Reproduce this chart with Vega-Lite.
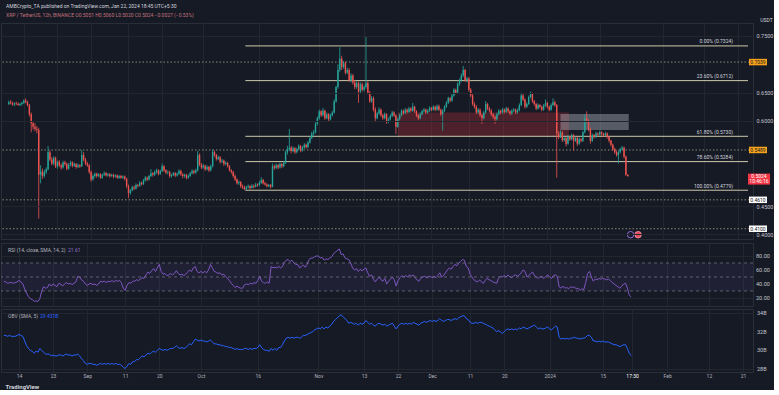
{
"$schema": "https://vega.github.io/schema/vega-lite/v6.json",
"background": "#161a25",
"padding": {"left": 0, "top": 3, "right": 0, "bottom": 0},
"title": {"text": "AMBCrypto_TA published on TradingView.com, Jan 22, 2024 18:45 UTC+5:30", "subtitle": "XRP / TetherUS, 12h, BINANCE   O0.5051  H0.5060  L0.5020  C0.5024  −0.0027 (−0.53%)", "anchor": "start", "fontSize": 5, "subtitleFontSize": 5, "color": "#d1d4dc", "subtitleColor": "#c2717b", "font": "Roboto", "subtitleFont": "Roboto", "fontWeight": "normal", "dx": 6, "offset": -1, "subtitlePadding": 4},
"spacing": 1,
"datasets": {
"candles": [
{"d":"2023-08-10T00:00","o":0.630,"h":0.636,"l":0.628,"c":0.633,"r":44,"v":31.6},
{"d":"2023-08-10T12:00","o":0.633,"h":0.637,"l":0.629,"c":0.631,"r":43,"v":31.6},
{"d":"2023-08-11T00:00","o":0.631,"h":0.634,"l":0.627,"c":0.629,"r":41,"v":31.5},
{"d":"2023-08-11T12:00","o":0.629,"h":0.633,"l":0.626,"c":0.631,"r":42,"v":31.6},
{"d":"2023-08-12T00:00","o":0.631,"h":0.634,"l":0.628,"c":0.630,"r":42,"v":31.5},
{"d":"2023-08-12T12:00","o":0.630,"h":0.633,"l":0.627,"c":0.628,"r":41,"v":31.5},
{"d":"2023-08-13T00:00","o":0.628,"h":0.632,"l":0.626,"c":0.630,"r":42,"v":31.5},
{"d":"2023-08-13T12:00","o":0.630,"h":0.634,"l":0.627,"c":0.632,"r":43,"v":31.6},
{"d":"2023-08-14T00:00","o":0.632,"h":0.638,"l":0.630,"c":0.636,"r":45,"v":31.7},
{"d":"2023-08-14T12:00","o":0.636,"h":0.640,"l":0.631,"c":0.633,"r":43,"v":31.6},
{"d":"2023-08-15T00:00","o":0.633,"h":0.636,"l":0.626,"c":0.628,"r":40,"v":31.5},
{"d":"2023-08-15T12:00","o":0.628,"h":0.630,"l":0.608,"c":0.612,"r":33,"v":31.0},
{"d":"2023-08-16T00:00","o":0.612,"h":0.615,"l":0.580,"c":0.596,"r":27,"v":30.5},
{"d":"2023-08-16T12:00","o":0.596,"h":0.600,"l":0.585,"c":0.590,"r":22,"v":30.2},
{"d":"2023-08-17T00:00","o":0.590,"h":0.596,"l":0.582,"c":0.586,"r":19,"v":30.0},
{"d":"2023-08-17T12:00","o":0.586,"h":0.591,"l":0.578,"c":0.584,"r":18,"v":29.9},
{"d":"2023-08-18T00:00","o":0.584,"h":0.588,"l":0.428,"c":0.505,"r":15,"v":29.7},
{"d":"2023-08-18T12:00","o":0.505,"h":0.522,"l":0.490,"c":0.511,"r":16,"v":29.9},
{"d":"2023-08-19T00:00","o":0.511,"h":0.516,"l":0.498,"c":0.503,"r":15,"v":29.8},
{"d":"2023-08-19T12:00","o":0.503,"h":0.514,"l":0.500,"c":0.510,"r":19,"v":30.2},
{"d":"2023-08-20T00:00","o":0.510,"h":0.518,"l":0.506,"c":0.515,"r":30,"v":30.0},
{"d":"2023-08-20T12:00","o":0.515,"h":0.556,"l":0.513,"c":0.545,"r":36,"v":29.8},
{"d":"2023-08-21T00:00","o":0.545,"h":0.548,"l":0.529,"c":0.532,"r":34,"v":29.6},
{"d":"2023-08-21T12:00","o":0.532,"h":0.536,"l":0.522,"c":0.525,"r":35,"v":29.6},
{"d":"2023-08-22T00:00","o":0.525,"h":0.538,"l":0.522,"c":0.535,"r":40,"v":29.6},
{"d":"2023-08-22T12:00","o":0.535,"h":0.537,"l":0.517,"c":0.520,"r":37,"v":29.4},
{"d":"2023-08-23T00:00","o":0.520,"h":0.530,"l":0.516,"c":0.528,"r":40,"v":29.5},
{"d":"2023-08-23T12:00","o":0.528,"h":0.531,"l":0.519,"c":0.522,"r":38,"v":29.4},
{"d":"2023-08-24T00:00","o":0.522,"h":0.525,"l":0.514,"c":0.518,"r":36,"v":29.4},
{"d":"2023-08-24T12:00","o":0.518,"h":0.530,"l":0.516,"c":0.527,"r":41,"v":29.5},
{"d":"2023-08-25T00:00","o":0.527,"h":0.530,"l":0.521,"c":0.524,"r":40,"v":29.5},
{"d":"2023-08-25T12:00","o":0.524,"h":0.527,"l":0.513,"c":0.516,"r":37,"v":29.4},
{"d":"2023-08-26T00:00","o":0.516,"h":0.526,"l":0.514,"c":0.523,"r":40,"v":29.5},
{"d":"2023-08-26T12:00","o":0.523,"h":0.530,"l":0.520,"c":0.527,"r":42,"v":29.6},
{"d":"2023-08-27T00:00","o":0.527,"h":0.529,"l":0.518,"c":0.521,"r":40,"v":29.5},
{"d":"2023-08-27T12:00","o":0.521,"h":0.527,"l":0.519,"c":0.524,"r":41,"v":29.5},
{"d":"2023-08-28T00:00","o":0.524,"h":0.526,"l":0.516,"c":0.519,"r":39,"v":29.4},
{"d":"2023-08-28T12:00","o":0.519,"h":0.525,"l":0.517,"c":0.522,"r":41,"v":29.5},
{"d":"2023-08-29T00:00","o":0.522,"h":0.524,"l":0.517,"c":0.520,"r":43,"v":29.5},
{"d":"2023-08-29T12:00","o":0.520,"h":0.549,"l":0.519,"c":0.540,"r":51,"v":29.6},
{"d":"2023-08-30T00:00","o":0.540,"h":0.545,"l":0.529,"c":0.532,"r":50,"v":29.4},
{"d":"2023-08-30T12:00","o":0.532,"h":0.535,"l":0.522,"c":0.525,"r":46,"v":29.1},
{"d":"2023-08-31T00:00","o":0.525,"h":0.528,"l":0.519,"c":0.522,"r":44,"v":28.9},
{"d":"2023-08-31T12:00","o":0.522,"h":0.524,"l":0.507,"c":0.510,"r":40,"v":28.6},
{"d":"2023-09-01T00:00","o":0.510,"h":0.513,"l":0.493,"c":0.497,"r":38,"v":28.5},
{"d":"2023-09-01T12:00","o":0.497,"h":0.506,"l":0.495,"c":0.503,"r":40,"v":28.6},
{"d":"2023-09-02T00:00","o":0.503,"h":0.509,"l":0.500,"c":0.507,"r":41,"v":28.6},
{"d":"2023-09-02T12:00","o":0.507,"h":0.509,"l":0.500,"c":0.503,"r":39,"v":28.5},
{"d":"2023-09-03T00:00","o":0.503,"h":0.508,"l":0.501,"c":0.506,"r":40,"v":28.5},
{"d":"2023-09-03T12:00","o":0.506,"h":0.508,"l":0.498,"c":0.500,"r":38,"v":28.4},
{"d":"2023-09-04T00:00","o":0.500,"h":0.507,"l":0.498,"c":0.505,"r":40,"v":28.5},
{"d":"2023-09-04T12:00","o":0.505,"h":0.511,"l":0.503,"c":0.508,"r":44,"v":28.6},
{"d":"2023-09-05T00:00","o":0.508,"h":0.510,"l":0.502,"c":0.504,"r":43,"v":28.5},
{"d":"2023-09-05T12:00","o":0.504,"h":0.508,"l":0.502,"c":0.506,"r":44,"v":28.6},
{"d":"2023-09-06T00:00","o":0.506,"h":0.508,"l":0.500,"c":0.503,"r":42,"v":28.5},
{"d":"2023-09-06T12:00","o":0.503,"h":0.507,"l":0.501,"c":0.505,"r":44,"v":28.6},
{"d":"2023-09-07T00:00","o":0.505,"h":0.507,"l":0.499,"c":0.502,"r":43,"v":28.5},
{"d":"2023-09-07T12:00","o":0.502,"h":0.506,"l":0.500,"c":0.504,"r":45,"v":28.6},
{"d":"2023-09-08T00:00","o":0.504,"h":0.506,"l":0.498,"c":0.500,"r":43,"v":28.5},
{"d":"2023-09-08T12:00","o":0.500,"h":0.505,"l":0.498,"c":0.503,"r":45,"v":28.6},
{"d":"2023-09-09T00:00","o":0.503,"h":0.505,"l":0.498,"c":0.500,"r":44,"v":28.5},
{"d":"2023-09-09T12:00","o":0.500,"h":0.504,"l":0.498,"c":0.502,"r":45,"v":28.5},
{"d":"2023-09-10T00:00","o":0.502,"h":0.504,"l":0.495,"c":0.498,"r":42,"v":28.4},
{"d":"2023-09-10T12:00","o":0.498,"h":0.500,"l":0.482,"c":0.485,"r":34,"v":28.2},
{"d":"2023-09-11T00:00","o":0.485,"h":0.488,"l":0.464,"c":0.473,"r":31,"v":28.05},
{"d":"2023-09-11T12:00","o":0.473,"h":0.480,"l":0.470,"c":0.478,"r":38,"v":28.3},
{"d":"2023-09-12T00:00","o":0.478,"h":0.486,"l":0.476,"c":0.483,"r":42,"v":28.6},
{"d":"2023-09-12T12:00","o":0.483,"h":0.486,"l":0.478,"c":0.481,"r":41,"v":28.5},
{"d":"2023-09-13T00:00","o":0.481,"h":0.490,"l":0.479,"c":0.487,"r":44,"v":28.8},
{"d":"2023-09-13T12:00","o":0.487,"h":0.489,"l":0.483,"c":0.486,"r":44,"v":28.8},
{"d":"2023-09-14T00:00","o":0.486,"h":0.494,"l":0.484,"c":0.491,"r":46,"v":29.0},
{"d":"2023-09-14T12:00","o":0.491,"h":0.493,"l":0.486,"c":0.489,"r":45,"v":29.0},
{"d":"2023-09-15T00:00","o":0.489,"h":0.498,"l":0.487,"c":0.495,"r":47,"v":29.2},
{"d":"2023-09-15T12:00","o":0.495,"h":0.503,"l":0.493,"c":0.500,"r":49,"v":29.4},
{"d":"2023-09-16T00:00","o":0.500,"h":0.502,"l":0.494,"c":0.497,"r":48,"v":29.3},
{"d":"2023-09-16T12:00","o":0.497,"h":0.505,"l":0.495,"c":0.503,"r":53,"v":29.5},
{"d":"2023-09-17T00:00","o":0.503,"h":0.515,"l":0.501,"c":0.508,"r":57,"v":29.7},
{"d":"2023-09-17T12:00","o":0.508,"h":0.510,"l":0.502,"c":0.505,"r":55,"v":29.6},
{"d":"2023-09-18T00:00","o":0.505,"h":0.513,"l":0.503,"c":0.510,"r":59,"v":29.8},
{"d":"2023-09-18T12:00","o":0.510,"h":0.516,"l":0.507,"c":0.513,"r":62,"v":29.9},
{"d":"2023-09-19T00:00","o":0.513,"h":0.515,"l":0.504,"c":0.507,"r":58,"v":29.8},
{"d":"2023-09-19T12:00","o":0.507,"h":0.514,"l":0.505,"c":0.512,"r":63,"v":30.0},
{"d":"2023-09-20T00:00","o":0.512,"h":0.525,"l":0.510,"c":0.520,"r":68,"v":30.2},
{"d":"2023-09-20T12:00","o":0.520,"h":0.522,"l":0.510,"c":0.513,"r":58,"v":30.1},
{"d":"2023-09-21T00:00","o":0.513,"h":0.515,"l":0.506,"c":0.509,"r":54,"v":30.0},
{"d":"2023-09-21T12:00","o":0.509,"h":0.513,"l":0.506,"c":0.510,"r":55,"v":30.1},
{"d":"2023-09-22T00:00","o":0.510,"h":0.512,"l":0.500,"c":0.503,"r":52,"v":30.0},
{"d":"2023-09-22T12:00","o":0.503,"h":0.507,"l":0.500,"c":0.505,"r":53,"v":30.1},
{"d":"2023-09-23T00:00","o":0.505,"h":0.510,"l":0.503,"c":0.508,"r":55,"v":30.2},
{"d":"2023-09-23T12:00","o":0.508,"h":0.510,"l":0.501,"c":0.504,"r":53,"v":30.2},
{"d":"2023-09-24T00:00","o":0.504,"h":0.509,"l":0.502,"c":0.507,"r":55,"v":30.3},
{"d":"2023-09-24T12:00","o":0.507,"h":0.515,"l":0.505,"c":0.512,"r":59,"v":30.5},
{"d":"2023-09-25T00:00","o":0.512,"h":0.514,"l":0.503,"c":0.506,"r":55,"v":30.3},
{"d":"2023-09-25T12:00","o":0.506,"h":0.508,"l":0.499,"c":0.503,"r":53,"v":30.2},
{"d":"2023-09-26T00:00","o":0.503,"h":0.507,"l":0.500,"c":0.505,"r":54,"v":30.3},
{"d":"2023-09-26T12:00","o":0.505,"h":0.507,"l":0.497,"c":0.500,"r":52,"v":30.2},
{"d":"2023-09-27T00:00","o":0.500,"h":0.506,"l":0.498,"c":0.503,"r":54,"v":30.3},
{"d":"2023-09-27T12:00","o":0.503,"h":0.510,"l":0.501,"c":0.508,"r":57,"v":30.5},
{"d":"2023-09-28T00:00","o":0.508,"h":0.515,"l":0.506,"c":0.512,"r":60,"v":30.7},
{"d":"2023-09-28T12:00","o":0.512,"h":0.514,"l":0.506,"c":0.509,"r":58,"v":30.6},
{"d":"2023-09-29T00:00","o":0.509,"h":0.516,"l":0.507,"c":0.513,"r":63,"v":30.9},
{"d":"2023-09-29T12:00","o":0.513,"h":0.547,"l":0.511,"c":0.540,"r":65,"v":31.2},
{"d":"2023-09-30T00:00","o":0.540,"h":0.543,"l":0.520,"c":0.523,"r":58,"v":31.1},
{"d":"2023-09-30T12:00","o":0.523,"h":0.526,"l":0.515,"c":0.518,"r":56,"v":31.0},
{"d":"2023-10-01T00:00","o":0.518,"h":0.524,"l":0.516,"c":0.521,"r":58,"v":31.1},
{"d":"2023-10-01T12:00","o":0.521,"h":0.523,"l":0.512,"c":0.515,"r":56,"v":31.0},
{"d":"2023-10-02T00:00","o":0.515,"h":0.522,"l":0.513,"c":0.519,"r":58,"v":31.0},
{"d":"2023-10-02T12:00","o":0.519,"h":0.521,"l":0.510,"c":0.513,"r":56,"v":30.9},
{"d":"2023-10-03T00:00","o":0.513,"h":0.523,"l":0.511,"c":0.520,"r":60,"v":31.0},
{"d":"2023-10-03T12:00","o":0.520,"h":0.550,"l":0.518,"c":0.545,"r":68,"v":31.1},
{"d":"2023-10-04T00:00","o":0.545,"h":0.548,"l":0.537,"c":0.540,"r":63,"v":30.9},
{"d":"2023-10-04T12:00","o":0.540,"h":0.542,"l":0.530,"c":0.533,"r":58,"v":30.7},
{"d":"2023-10-05T00:00","o":0.533,"h":0.539,"l":0.531,"c":0.536,"r":57,"v":30.7},
{"d":"2023-10-05T12:00","o":0.536,"h":0.538,"l":0.525,"c":0.528,"r":55,"v":30.6},
{"d":"2023-10-06T00:00","o":0.528,"h":0.533,"l":0.526,"c":0.530,"r":56,"v":30.6},
{"d":"2023-10-06T12:00","o":0.530,"h":0.532,"l":0.521,"c":0.524,"r":53,"v":30.5},
{"d":"2023-10-07T00:00","o":0.524,"h":0.529,"l":0.522,"c":0.526,"r":54,"v":30.5},
{"d":"2023-10-07T12:00","o":0.526,"h":0.528,"l":0.518,"c":0.520,"r":51,"v":30.4},
{"d":"2023-10-08T00:00","o":0.520,"h":0.522,"l":0.511,"c":0.513,"r":48,"v":30.4},
{"d":"2023-10-08T12:00","o":0.513,"h":0.515,"l":0.507,"c":0.510,"r":45,"v":30.3},
{"d":"2023-10-09T00:00","o":0.510,"h":0.512,"l":0.500,"c":0.503,"r":41,"v":30.3},
{"d":"2023-10-09T12:00","o":0.503,"h":0.506,"l":0.494,"c":0.497,"r":38,"v":30.2},
{"d":"2023-10-10T00:00","o":0.497,"h":0.499,"l":0.488,"c":0.490,"r":35,"v":30.1},
{"d":"2023-10-10T12:00","o":0.490,"h":0.495,"l":0.487,"c":0.492,"r":37,"v":30.2},
{"d":"2023-10-11T00:00","o":0.492,"h":0.494,"l":0.482,"c":0.485,"r":35,"v":30.1},
{"d":"2023-10-11T12:00","o":0.485,"h":0.488,"l":0.480,"c":0.483,"r":34,"v":30.1},
{"d":"2023-10-12T00:00","o":0.483,"h":0.486,"l":0.4779,"c":0.480,"r":34,"v":30.1},
{"d":"2023-10-12T12:00","o":0.480,"h":0.486,"l":0.478,"c":0.483,"r":39,"v":30.2},
{"d":"2023-10-13T00:00","o":0.483,"h":0.488,"l":0.481,"c":0.485,"r":40,"v":30.2},
{"d":"2023-10-13T12:00","o":0.485,"h":0.487,"l":0.479,"c":0.482,"r":39,"v":30.1},
{"d":"2023-10-14T00:00","o":0.482,"h":0.489,"l":0.481,"c":0.486,"r":41,"v":30.2},
{"d":"2023-10-14T12:00","o":0.486,"h":0.488,"l":0.481,"c":0.484,"r":40,"v":30.1},
{"d":"2023-10-15T00:00","o":0.484,"h":0.491,"l":0.483,"c":0.488,"r":42,"v":30.2},
{"d":"2023-10-15T12:00","o":0.488,"h":0.490,"l":0.484,"c":0.487,"r":41,"v":30.2},
{"d":"2023-10-16T00:00","o":0.487,"h":0.494,"l":0.485,"c":0.491,"r":45,"v":30.3},
{"d":"2023-10-16T12:00","o":0.491,"h":0.501,"l":0.489,"c":0.496,"r":51,"v":30.6},
{"d":"2023-10-17T00:00","o":0.496,"h":0.498,"l":0.488,"c":0.490,"r":44,"v":30.3},
{"d":"2023-10-17T12:00","o":0.490,"h":0.493,"l":0.486,"c":0.488,"r":42,"v":30.1},
{"d":"2023-10-18T00:00","o":0.488,"h":0.490,"l":0.483,"c":0.485,"r":41,"v":30.0},
{"d":"2023-10-18T12:00","o":0.485,"h":0.489,"l":0.483,"c":0.487,"r":43,"v":30.0},
{"d":"2023-10-19T00:00","o":0.487,"h":0.489,"l":0.481,"c":0.484,"r":41,"v":29.9},
{"d":"2023-10-19T12:00","o":0.484,"h":0.525,"l":0.483,"c":0.520,"r":65,"v":30.2},
{"d":"2023-10-20T00:00","o":0.520,"h":0.523,"l":0.514,"c":0.517,"r":63,"v":30.0},
{"d":"2023-10-20T12:00","o":0.517,"h":0.525,"l":0.515,"c":0.522,"r":64,"v":30.2},
{"d":"2023-10-21T00:00","o":0.522,"h":0.524,"l":0.515,"c":0.518,"r":63,"v":30.0},
{"d":"2023-10-21T12:00","o":0.518,"h":0.527,"l":0.516,"c":0.524,"r":65,"v":30.3},
{"d":"2023-10-22T00:00","o":0.524,"h":0.526,"l":0.517,"c":0.520,"r":63,"v":30.3},
{"d":"2023-10-22T12:00","o":0.520,"h":0.529,"l":0.518,"c":0.526,"r":65,"v":30.6},
{"d":"2023-10-23T00:00","o":0.526,"h":0.548,"l":0.524,"c":0.545,"r":71,"v":31.0},
{"d":"2023-10-23T12:00","o":0.545,"h":0.556,"l":0.541,"c":0.550,"r":74,"v":31.3},
{"d":"2023-10-24T00:00","o":0.550,"h":0.586,"l":0.547,"c":0.553,"r":75,"v":31.4},
{"d":"2023-10-24T12:00","o":0.553,"h":0.556,"l":0.543,"c":0.547,"r":72,"v":31.3},
{"d":"2023-10-25T00:00","o":0.547,"h":0.555,"l":0.545,"c":0.552,"r":74,"v":31.4},
{"d":"2023-10-25T12:00","o":0.552,"h":0.554,"l":0.542,"c":0.545,"r":70,"v":31.3},
{"d":"2023-10-26T00:00","o":0.545,"h":0.553,"l":0.543,"c":0.550,"r":68,"v":31.4},
{"d":"2023-10-26T12:00","o":0.550,"h":0.559,"l":0.548,"c":0.556,"r":68,"v":31.4},
{"d":"2023-10-27T00:00","o":0.556,"h":0.558,"l":0.545,"c":0.548,"r":63,"v":31.3},
{"d":"2023-10-27T12:00","o":0.548,"h":0.556,"l":0.546,"c":0.553,"r":65,"v":31.4},
{"d":"2023-10-28T00:00","o":0.553,"h":0.561,"l":0.551,"c":0.558,"r":67,"v":31.6},
{"d":"2023-10-28T12:00","o":0.558,"h":0.560,"l":0.551,"c":0.554,"r":64,"v":31.6},
{"d":"2023-10-29T00:00","o":0.554,"h":0.565,"l":0.552,"c":0.562,"r":68,"v":31.7},
{"d":"2023-10-29T12:00","o":0.562,"h":0.573,"l":0.560,"c":0.570,"r":75,"v":31.8},
{"d":"2023-10-30T00:00","o":0.570,"h":0.581,"l":0.568,"c":0.578,"r":77,"v":31.9},
{"d":"2023-10-30T12:00","o":0.578,"h":0.584,"l":0.574,"c":0.580,"r":77,"v":32.0},
{"d":"2023-10-31T00:00","o":0.580,"h":0.598,"l":0.578,"c":0.595,"r":79,"v":32.2},
{"d":"2023-10-31T12:00","o":0.595,"h":0.608,"l":0.592,"c":0.605,"r":80,"v":32.3},
{"d":"2023-11-01T00:00","o":0.605,"h":0.620,"l":0.602,"c":0.617,"r":80,"v":32.4},
{"d":"2023-11-01T12:00","o":0.617,"h":0.619,"l":0.607,"c":0.610,"r":77,"v":32.3},
{"d":"2023-11-02T00:00","o":0.610,"h":0.623,"l":0.608,"c":0.618,"r":78,"v":32.5},
{"d":"2023-11-02T12:00","o":0.618,"h":0.620,"l":0.602,"c":0.605,"r":74,"v":32.3},
{"d":"2023-11-03T00:00","o":0.605,"h":0.615,"l":0.603,"c":0.612,"r":76,"v":32.5},
{"d":"2023-11-03T12:00","o":0.612,"h":0.614,"l":0.600,"c":0.603,"r":75,"v":32.4},
{"d":"2023-11-04T00:00","o":0.603,"h":0.613,"l":0.601,"c":0.610,"r":77,"v":32.6},
{"d":"2023-11-04T12:00","o":0.610,"h":0.618,"l":0.608,"c":0.615,"r":79,"v":32.8},
{"d":"2023-11-05T00:00","o":0.615,"h":0.638,"l":0.613,"c":0.635,"r":83,"v":33.1},
{"d":"2023-11-05T12:00","o":0.635,"h":0.662,"l":0.632,"c":0.660,"r":86,"v":33.3},
{"d":"2023-11-06T00:00","o":0.660,"h":0.700,"l":0.657,"c":0.690,"r":88,"v":33.5},
{"d":"2023-11-06T12:00","o":0.690,"h":0.730,"l":0.686,"c":0.710,"r":90,"v":33.7},
{"d":"2023-11-07T00:00","o":0.710,"h":0.715,"l":0.690,"c":0.695,"r":82,"v":33.8},
{"d":"2023-11-07T12:00","o":0.695,"h":0.706,"l":0.692,"c":0.702,"r":83,"v":33.6},
{"d":"2023-11-08T00:00","o":0.702,"h":0.705,"l":0.682,"c":0.685,"r":77,"v":33.4},
{"d":"2023-11-08T12:00","o":0.685,"h":0.694,"l":0.683,"c":0.690,"r":76,"v":33.2},
{"d":"2023-11-09T00:00","o":0.690,"h":0.693,"l":0.669,"c":0.672,"r":75,"v":32.9},
{"d":"2023-11-09T12:00","o":0.672,"h":0.684,"l":0.668,"c":0.680,"r":70,"v":33.0},
{"d":"2023-11-10T00:00","o":0.680,"h":0.683,"l":0.664,"c":0.668,"r":63,"v":32.9},
{"d":"2023-11-10T12:00","o":0.668,"h":0.672,"l":0.656,"c":0.660,"r":60,"v":32.8},
{"d":"2023-11-11T00:00","o":0.660,"h":0.670,"l":0.657,"c":0.667,"r":62,"v":32.9},
{"d":"2023-11-11T12:00","o":0.667,"h":0.670,"l":0.632,"c":0.652,"r":58,"v":32.7},
{"d":"2023-11-12T00:00","o":0.652,"h":0.668,"l":0.649,"c":0.665,"r":61,"v":32.9},
{"d":"2023-11-12T12:00","o":0.665,"h":0.668,"l":0.652,"c":0.655,"r":59,"v":32.8},
{"d":"2023-11-13T00:00","o":0.655,"h":0.663,"l":0.652,"c":0.660,"r":61,"v":32.9},
{"d":"2023-11-13T12:00","o":0.660,"h":0.750,"l":0.657,"c":0.667,"r":63,"v":33.2},
{"d":"2023-11-14T00:00","o":0.667,"h":0.670,"l":0.647,"c":0.650,"r":56,"v":33.0},
{"d":"2023-11-14T12:00","o":0.650,"h":0.653,"l":0.632,"c":0.635,"r":51,"v":32.8},
{"d":"2023-11-15T00:00","o":0.635,"h":0.644,"l":0.632,"c":0.640,"r":53,"v":32.9},
{"d":"2023-11-15T12:00","o":0.640,"h":0.643,"l":0.617,"c":0.620,"r":47,"v":32.7},
{"d":"2023-11-16T00:00","o":0.620,"h":0.624,"l":0.600,"c":0.605,"r":43,"v":32.6},
{"d":"2023-11-16T12:00","o":0.605,"h":0.616,"l":0.603,"c":0.613,"r":47,"v":32.8},
{"d":"2023-11-17T00:00","o":0.613,"h":0.624,"l":0.611,"c":0.620,"r":50,"v":32.9},
{"d":"2023-11-17T12:00","o":0.620,"h":0.622,"l":0.607,"c":0.610,"r":46,"v":32.8},
{"d":"2023-11-18T00:00","o":0.610,"h":0.613,"l":0.602,"c":0.605,"r":44,"v":32.7},
{"d":"2023-11-18T12:00","o":0.605,"h":0.615,"l":0.603,"c":0.612,"r":48,"v":32.8},
{"d":"2023-11-19T00:00","o":0.612,"h":0.614,"l":0.595,"c":0.598,"r":40,"v":32.6},
{"d":"2023-11-19T12:00","o":0.598,"h":0.606,"l":0.596,"c":0.603,"r":44,"v":32.7},
{"d":"2023-11-20T00:00","o":0.603,"h":0.612,"l":0.601,"c":0.609,"r":47,"v":32.8},
{"d":"2023-11-20T12:00","o":0.609,"h":0.618,"l":0.607,"c":0.615,"r":50,"v":32.9},
{"d":"2023-11-21T00:00","o":0.615,"h":0.617,"l":0.607,"c":0.610,"r":46,"v":32.6},
{"d":"2023-11-21T12:00","o":0.610,"h":0.612,"l":0.577,"c":0.590,"r":37,"v":32.3},
{"d":"2023-11-22T00:00","o":0.590,"h":0.606,"l":0.588,"c":0.603,"r":45,"v":32.6},
{"d":"2023-11-22T12:00","o":0.603,"h":0.613,"l":0.601,"c":0.610,"r":49,"v":32.8},
{"d":"2023-11-23T00:00","o":0.610,"h":0.621,"l":0.608,"c":0.618,"r":52,"v":32.9},
{"d":"2023-11-23T12:00","o":0.618,"h":0.620,"l":0.611,"c":0.614,"r":50,"v":32.8},
{"d":"2023-11-24T00:00","o":0.614,"h":0.623,"l":0.612,"c":0.620,"r":52,"v":32.9},
{"d":"2023-11-24T12:00","o":0.620,"h":0.622,"l":0.613,"c":0.616,"r":50,"v":32.8},
{"d":"2023-11-25T00:00","o":0.616,"h":0.625,"l":0.614,"c":0.622,"r":53,"v":32.9},
{"d":"2023-11-25T12:00","o":0.622,"h":0.624,"l":0.615,"c":0.618,"r":51,"v":32.8},
{"d":"2023-11-26T00:00","o":0.618,"h":0.632,"l":0.616,"c":0.625,"r":53,"v":33.0},
{"d":"2023-11-26T12:00","o":0.625,"h":0.627,"l":0.614,"c":0.617,"r":49,"v":32.9},
{"d":"2023-11-27T00:00","o":0.617,"h":0.619,"l":0.607,"c":0.610,"r":46,"v":32.8},
{"d":"2023-11-27T12:00","o":0.610,"h":0.612,"l":0.602,"c":0.605,"r":44,"v":32.7},
{"d":"2023-11-28T00:00","o":0.605,"h":0.615,"l":0.603,"c":0.612,"r":48,"v":32.9},
{"d":"2023-11-28T12:00","o":0.612,"h":0.620,"l":0.610,"c":0.617,"r":50,"v":33.0},
{"d":"2023-11-29T00:00","o":0.617,"h":0.623,"l":0.615,"c":0.620,"r":51,"v":33.1},
{"d":"2023-11-29T12:00","o":0.620,"h":0.622,"l":0.612,"c":0.615,"r":49,"v":33.0},
{"d":"2023-11-30T00:00","o":0.615,"h":0.621,"l":0.613,"c":0.618,"r":50,"v":33.1},
{"d":"2023-11-30T12:00","o":0.618,"h":0.626,"l":0.616,"c":0.623,"r":51,"v":33.2},
{"d":"2023-12-01T00:00","o":0.623,"h":0.625,"l":0.617,"c":0.620,"r":49,"v":33.1},
{"d":"2023-12-01T12:00","o":0.620,"h":0.628,"l":0.618,"c":0.625,"r":51,"v":33.2},
{"d":"2023-12-02T00:00","o":0.625,"h":0.627,"l":0.617,"c":0.620,"r":49,"v":33.1},
{"d":"2023-12-02T12:00","o":0.620,"h":0.629,"l":0.618,"c":0.626,"r":52,"v":33.2},
{"d":"2023-12-03T00:00","o":0.626,"h":0.629,"l":0.617,"c":0.620,"r":56,"v":33.4},
{"d":"2023-12-03T12:00","o":0.620,"h":0.622,"l":0.609,"c":0.612,"r":50,"v":33.2},
{"d":"2023-12-04T00:00","o":0.612,"h":0.621,"l":0.583,"c":0.618,"r":52,"v":33.1},
{"d":"2023-12-04T12:00","o":0.618,"h":0.628,"l":0.616,"c":0.625,"r":56,"v":33.2},
{"d":"2023-12-05T00:00","o":0.625,"h":0.635,"l":0.623,"c":0.632,"r":60,"v":33.3},
{"d":"2023-12-05T12:00","o":0.632,"h":0.643,"l":0.630,"c":0.640,"r":63,"v":33.3},
{"d":"2023-12-06T00:00","o":0.640,"h":0.642,"l":0.633,"c":0.636,"r":61,"v":33.2},
{"d":"2023-12-06T12:00","o":0.636,"h":0.648,"l":0.634,"c":0.645,"r":65,"v":33.3},
{"d":"2023-12-07T00:00","o":0.645,"h":0.658,"l":0.643,"c":0.655,"r":68,"v":33.4},
{"d":"2023-12-07T12:00","o":0.655,"h":0.657,"l":0.647,"c":0.650,"r":66,"v":33.3},
{"d":"2023-12-08T00:00","o":0.650,"h":0.668,"l":0.648,"c":0.665,"r":70,"v":33.5},
{"d":"2023-12-08T12:00","o":0.665,"h":0.675,"l":0.662,"c":0.672,"r":72,"v":33.6},
{"d":"2023-12-09T00:00","o":0.672,"h":0.684,"l":0.669,"c":0.680,"r":75,"v":33.7},
{"d":"2023-12-09T12:00","o":0.680,"h":0.697,"l":0.677,"c":0.690,"r":74,"v":33.7},
{"d":"2023-12-10T00:00","o":0.690,"h":0.692,"l":0.669,"c":0.672,"r":65,"v":33.4},
{"d":"2023-12-10T12:00","o":0.672,"h":0.678,"l":0.668,"c":0.675,"r":63,"v":33.3},
{"d":"2023-12-11T00:00","o":0.675,"h":0.677,"l":0.652,"c":0.655,"r":54,"v":33.0},
{"d":"2023-12-11T12:00","o":0.655,"h":0.658,"l":0.642,"c":0.645,"r":50,"v":32.9},
{"d":"2023-12-12T00:00","o":0.645,"h":0.648,"l":0.627,"c":0.630,"r":46,"v":32.9},
{"d":"2023-12-12T12:00","o":0.630,"h":0.633,"l":0.622,"c":0.625,"r":44,"v":33.0},
{"d":"2023-12-13T00:00","o":0.625,"h":0.628,"l":0.612,"c":0.615,"r":43,"v":32.9},
{"d":"2023-12-13T12:00","o":0.615,"h":0.623,"l":0.613,"c":0.620,"r":46,"v":33.0},
{"d":"2023-12-14T00:00","o":0.620,"h":0.622,"l":0.607,"c":0.610,"r":43,"v":33.0},
{"d":"2023-12-14T12:00","o":0.610,"h":0.613,"l":0.595,"c":0.605,"r":41,"v":32.9},
{"d":"2023-12-15T00:00","o":0.605,"h":0.618,"l":0.603,"c":0.615,"r":45,"v":32.8},
{"d":"2023-12-15T12:00","o":0.615,"h":0.635,"l":0.613,"c":0.630,"r":48,"v":32.7},
{"d":"2023-12-16T00:00","o":0.630,"h":0.632,"l":0.619,"c":0.622,"r":46,"v":32.6},
{"d":"2023-12-16T12:00","o":0.622,"h":0.625,"l":0.615,"c":0.618,"r":45,"v":32.5},
{"d":"2023-12-17T00:00","o":0.618,"h":0.621,"l":0.609,"c":0.612,"r":43,"v":32.4},
{"d":"2023-12-17T12:00","o":0.612,"h":0.614,"l":0.604,"c":0.607,"r":42,"v":32.2},
{"d":"2023-12-18T00:00","o":0.607,"h":0.610,"l":0.595,"c":0.603,"r":41,"v":32.0},
{"d":"2023-12-18T12:00","o":0.603,"h":0.615,"l":0.601,"c":0.612,"r":48,"v":32.1},
{"d":"2023-12-19T00:00","o":0.612,"h":0.621,"l":0.610,"c":0.618,"r":51,"v":32.0},
{"d":"2023-12-19T12:00","o":0.618,"h":0.620,"l":0.612,"c":0.615,"r":50,"v":31.8},
{"d":"2023-12-20T00:00","o":0.615,"h":0.623,"l":0.613,"c":0.620,"r":52,"v":32.0},
{"d":"2023-12-20T12:00","o":0.620,"h":0.622,"l":0.613,"c":0.616,"r":50,"v":32.2},
{"d":"2023-12-21T00:00","o":0.616,"h":0.625,"l":0.614,"c":0.622,"r":53,"v":32.3},
{"d":"2023-12-21T12:00","o":0.622,"h":0.624,"l":0.614,"c":0.617,"r":50,"v":32.2},
{"d":"2023-12-22T00:00","o":0.617,"h":0.619,"l":0.610,"c":0.613,"r":49,"v":32.3},
{"d":"2023-12-22T12:00","o":0.613,"h":0.621,"l":0.611,"c":0.618,"r":52,"v":32.2},
{"d":"2023-12-23T00:00","o":0.618,"h":0.623,"l":0.616,"c":0.620,"r":53,"v":32.3},
{"d":"2023-12-23T12:00","o":0.620,"h":0.622,"l":0.612,"c":0.615,"r":51,"v":32.2},
{"d":"2023-12-24T00:00","o":0.615,"h":0.622,"l":0.613,"c":0.619,"r":53,"v":32.4},
{"d":"2023-12-24T12:00","o":0.619,"h":0.631,"l":0.617,"c":0.628,"r":56,"v":32.3},
{"d":"2023-12-25T00:00","o":0.628,"h":0.650,"l":0.626,"c":0.645,"r":60,"v":32.5},
{"d":"2023-12-25T12:00","o":0.645,"h":0.648,"l":0.635,"c":0.638,"r":58,"v":32.4},
{"d":"2023-12-26T00:00","o":0.638,"h":0.640,"l":0.622,"c":0.625,"r":50,"v":32.3},
{"d":"2023-12-26T12:00","o":0.625,"h":0.633,"l":0.623,"c":0.630,"r":52,"v":32.4},
{"d":"2023-12-27T00:00","o":0.630,"h":0.645,"l":0.628,"c":0.642,"r":55,"v":32.5},
{"d":"2023-12-27T12:00","o":0.642,"h":0.652,"l":0.640,"c":0.648,"r":57,"v":32.6},
{"d":"2023-12-28T00:00","o":0.648,"h":0.650,"l":0.632,"c":0.635,"r":52,"v":32.7},
{"d":"2023-12-28T12:00","o":0.635,"h":0.637,"l":0.627,"c":0.630,"r":50,"v":32.5},
{"d":"2023-12-29T00:00","o":0.630,"h":0.632,"l":0.619,"c":0.622,"r":48,"v":32.3},
{"d":"2023-12-29T12:00","o":0.622,"h":0.631,"l":0.620,"c":0.628,"r":51,"v":32.4},
{"d":"2023-12-30T00:00","o":0.628,"h":0.630,"l":0.622,"c":0.625,"r":50,"v":32.3},
{"d":"2023-12-30T12:00","o":0.625,"h":0.627,"l":0.617,"c":0.620,"r":48,"v":32.3},
{"d":"2023-12-31T00:00","o":0.620,"h":0.630,"l":0.618,"c":0.627,"r":51,"v":32.4},
{"d":"2023-12-31T12:00","o":0.627,"h":0.638,"l":0.625,"c":0.632,"r":53,"v":32.5},
{"d":"2024-01-01T00:00","o":0.632,"h":0.634,"l":0.622,"c":0.625,"r":50,"v":32.3},
{"d":"2024-01-01T12:00","o":0.625,"h":0.627,"l":0.617,"c":0.620,"r":48,"v":32.2},
{"d":"2024-01-02T00:00","o":0.620,"h":0.631,"l":0.618,"c":0.628,"r":52,"v":32.4},
{"d":"2024-01-02T12:00","o":0.628,"h":0.640,"l":0.626,"c":0.633,"r":53,"v":32.6},
{"d":"2024-01-03T00:00","o":0.633,"h":0.636,"l":0.625,"c":0.628,"r":51,"v":32.5},
{"d":"2024-01-03T12:00","o":0.628,"h":0.630,"l":0.500,"c":0.578,"r":36,"v":31.4},
{"d":"2024-01-04T00:00","o":0.578,"h":0.582,"l":0.568,"c":0.572,"r":34,"v":31.2},
{"d":"2024-01-04T12:00","o":0.572,"h":0.584,"l":0.570,"c":0.580,"r":37,"v":31.3},
{"d":"2024-01-05T00:00","o":0.580,"h":0.582,"l":0.563,"c":0.566,"r":34,"v":31.2},
{"d":"2024-01-05T12:00","o":0.566,"h":0.573,"l":0.564,"c":0.570,"r":35,"v":31.3},
{"d":"2024-01-06T00:00","o":0.570,"h":0.572,"l":0.555,"c":0.560,"r":33,"v":31.2},
{"d":"2024-01-06T12:00","o":0.560,"h":0.575,"l":0.558,"c":0.572,"r":36,"v":31.3},
{"d":"2024-01-07T00:00","o":0.572,"h":0.574,"l":0.565,"c":0.568,"r":35,"v":31.3},
{"d":"2024-01-07T12:00","o":0.568,"h":0.578,"l":0.566,"c":0.575,"r":36,"v":31.4},
{"d":"2024-01-08T00:00","o":0.575,"h":0.577,"l":0.548,"c":0.565,"r":33,"v":31.3},
{"d":"2024-01-08T12:00","o":0.565,"h":0.573,"l":0.563,"c":0.570,"r":34,"v":31.3},
{"d":"2024-01-09T00:00","o":0.570,"h":0.572,"l":0.556,"c":0.560,"r":31,"v":31.2},
{"d":"2024-01-09T12:00","o":0.560,"h":0.571,"l":0.558,"c":0.568,"r":33,"v":31.3},
{"d":"2024-01-10T00:00","o":0.568,"h":0.570,"l":0.562,"c":0.565,"r":32,"v":31.3},
{"d":"2024-01-10T12:00","o":0.565,"h":0.583,"l":0.563,"c":0.580,"r":42,"v":31.4},
{"d":"2024-01-11T00:00","o":0.580,"h":0.612,"l":0.578,"c":0.605,"r":55,"v":31.6},
{"d":"2024-01-11T12:00","o":0.605,"h":0.617,"l":0.597,"c":0.600,"r":58,"v":31.6},
{"d":"2024-01-12T00:00","o":0.600,"h":0.603,"l":0.582,"c":0.585,"r":50,"v":31.4},
{"d":"2024-01-12T12:00","o":0.585,"h":0.588,"l":0.560,"c":0.565,"r":44,"v":31.0},
{"d":"2024-01-13T00:00","o":0.565,"h":0.578,"l":0.563,"c":0.575,"r":47,"v":31.0},
{"d":"2024-01-13T12:00","o":0.575,"h":0.577,"l":0.569,"c":0.572,"r":46,"v":30.9},
{"d":"2024-01-14T00:00","o":0.572,"h":0.581,"l":0.570,"c":0.578,"r":48,"v":31.0},
{"d":"2024-01-14T12:00","o":0.578,"h":0.580,"l":0.573,"c":0.576,"r":47,"v":30.9},
{"d":"2024-01-15T00:00","o":0.576,"h":0.583,"l":0.574,"c":0.580,"r":48,"v":31.0},
{"d":"2024-01-15T12:00","o":0.580,"h":0.582,"l":0.574,"c":0.577,"r":47,"v":30.9},
{"d":"2024-01-16T00:00","o":0.577,"h":0.579,"l":0.572,"c":0.575,"r":46,"v":30.9},
{"d":"2024-01-16T12:00","o":0.575,"h":0.581,"l":0.573,"c":0.578,"r":47,"v":30.9},
{"d":"2024-01-17T00:00","o":0.578,"h":0.580,"l":0.569,"c":0.572,"r":45,"v":30.8},
{"d":"2024-01-17T12:00","o":0.572,"h":0.574,"l":0.562,"c":0.565,"r":42,"v":30.7},
{"d":"2024-01-18T00:00","o":0.565,"h":0.567,"l":0.555,"c":0.558,"r":40,"v":30.6},
{"d":"2024-01-18T12:00","o":0.558,"h":0.560,"l":0.547,"c":0.550,"r":38,"v":30.6},
{"d":"2024-01-19T00:00","o":0.550,"h":0.553,"l":0.542,"c":0.545,"r":36,"v":30.5},
{"d":"2024-01-19T12:00","o":0.545,"h":0.548,"l":0.537,"c":0.540,"r":34,"v":30.4},
{"d":"2024-01-20T00:00","o":0.540,"h":0.548,"l":0.525,"c":0.545,"r":37,"v":30.5},
{"d":"2024-01-20T12:00","o":0.545,"h":0.553,"l":0.543,"c":0.550,"r":40,"v":30.6},
{"d":"2024-01-21T00:00","o":0.550,"h":0.556,"l":0.548,"c":0.553,"r":41,"v":30.6},
{"d":"2024-01-21T12:00","o":0.553,"h":0.555,"l":0.534,"c":0.537,"r":34,"v":30.2},
{"d":"2024-01-22T00:00","o":0.537,"h":0.539,"l":0.503,"c":0.5051,"r":24,"v":29.7},
{"d":"2024-01-22T12:00","o":0.5051,"h":0.5060,"l":0.5020,"c":0.5024,"r":21.61,"v":29.431}
]
},
"vconcat": [
{
"width": 752, "height": 216,
"resolve": {"scale": {"color": "independent", "opacity": "independent"}},
"layer": [
{"data": {"values": [
 {"x1":"2023-11-22T00:00","x2":"2024-01-06T18:00","y1":0.573,"y2":0.615,"kind":"supply"},
 {"x1":"2024-01-04T12:00","x2":"2024-01-22T18:00","y1":0.5843,"y2":0.6123,"kind":"gray"}
 ], "format": {"parse": {"x1":"date","x2":"date"}}},
 "mark": {"type":"rect"},
 "encoding": {
  "x": {"field":"x1","type":"temporal","scale":{"domain":[{"year":2023,"month":8,"date":9,"hours":6},{"year":2024,"month":2,"date":23,"hours":15,"minutes":20}]},
        "axis":{"values":[{"year":2023,"month":8,"date":14},{"year":2023,"month":8,"date":23},{"year":2023,"month":9,"date":1},{"year":2023,"month":9,"date":11},{"year":2023,"month":9,"date":20},{"year":2023,"month":10,"date":1},{"year":2023,"month":10,"date":16},{"year":2023,"month":11,"date":1},{"year":2023,"month":11,"date":13},{"year":2023,"month":11,"date":22},{"year":2023,"month":12,"date":1},{"year":2023,"month":12,"date":11},{"year":2023,"month":12,"date":20},{"year":2024,"month":1,"date":1},{"year":2024,"month":1,"date":15},{"year":2024,"month":2,"date":1},{"year":2024,"month":2,"date":12},{"year":2024,"month":2,"date":21}],"labels":false,"ticks":false,"domain":false,"grid":true,"title":""}},
  "x2": {"field":"x2"},
  "y": {"field":"y1","type":"quantitative","scale":{"domain":[0.3919,0.7728],"zero":false,"nice":false},
        "axis":{"orient":"right","values":[0.4,0.45,0.6,0.65,0.75],"format":".4f","labelPadding":3,"labelOverlap":false,"labelBound":false,"labelFlush":false,"labelFontSize":5.5,"labelColor":"#c3c6ce","zindex":2,"grid":true,"ticks":false,"domain":false,"title":"USDT","titleAngle":0,"titleX":13,"titleY":-4,"titleAlign":"center","titleBaseline":"middle","titleFontSize":5,"titleFontWeight":"normal","titleColor":"#d1d4dc"}},
  "y2": {"field":"y2"},
  "color": {"field":"kind","type":"nominal","scale":{"domain":["supply","gray"],"range":["#f23645","#b2b5be"]},"legend":null},
  "opacity": {"field":"kind","type":"nominal","scale":{"domain":["supply","gray"],"range":[0.25,0.42]},"legend":null}
 }
},
{"data": {"values": [{"p":0.7039},{"p":0.5489},{"p":0.4610},{"p":0.4100}]},
 "mark": {"type":"rule","strokeDash":[1.5,2],"color":"#8b8878","strokeWidth":1},
 "encoding": {"y": {"field":"p","type":"quantitative"}}
},
{"data": {"values": [
 {"s":"2023-10-12T06:00","p":0.7324,"label":"0.00% (0.7324)"},
 {"s":"2023-10-12T06:00","p":0.6712,"label":"23.60% (0.6712)"},
 {"s":"2023-10-12T06:00","p":0.5730,"label":"61.80% (0.5730)"},
 {"s":"2023-10-12T06:00","p":0.5284,"label":"78.60% (0.5284)"},
 {"s":"2023-10-12T06:00","p":0.4779,"label":"100.00% (0.4779)"}
 ], "format": {"parse": {"s":"date"}}},
 "layer": [
  {"mark": {"type":"rule","color":"#cdc9aa","strokeWidth":1},
   "encoding": {
    "x": {"field":"s","type":"temporal"},
    "x2": {"datum":{"year":2024,"month":2,"date":23,"hours":15,"minutes":20}},
    "y": {"field":"p","type":"quantitative"}}},
  {"mark": {"type":"text","align":"right","baseline":"bottom","dx":-15,"dy":-1.5,"fontSize":5,"font":"Roboto","color":"#d1d4dc"},
   "encoding": {
    "x": {"datum":{"year":2024,"month":2,"date":23,"hours":15,"minutes":20},"type":"temporal"},
    "y": {"field":"p","type":"quantitative"},
    "text": {"field":"label"}}}
 ]
},
{"data": {"name":"candles"},
 "mark": {"type":"rule","strokeWidth":0.8},
 "encoding": {
  "x": {"field":"d","type":"temporal"},
  "y": {"field":"l","type":"quantitative"},
  "y2": {"field":"h"},
  "color": {"condition":{"test":"datum.c >= datum.o","value":"#26a69a"},"value":"#ef5350"}
 }
},
{"data": {"name":"candles"},
 "mark": {"type":"bar","width":1.4},
 "encoding": {
  "x": {"field":"d","type":"temporal"},
  "y": {"field":"o","type":"quantitative"},
  "y2": {"field":"c"},
  "color": {"condition":{"test":"datum.c >= datum.o","value":"#26a69a"},"value":"#ef5350"}
 }
},
{"data": {"values": [{"d":"2024-01-23T06:00"}], "format": {"parse": {"d":"date"}}},
 "mark": {"type":"point","shape":"circle","filled":false,"size":42,"stroke":"#8e6bd6","strokeWidth":1,"opacity":1},
 "encoding": {
  "x": {"field":"d","type":"temporal"},
  "y": {"datum":0.3995,"type":"quantitative"}}
},
{"data": {"values": [{"d":"2024-01-25T06:00"}], "format": {"parse": {"d":"date"}}},
 "mark": {"type":"point","shape":"circle","filled":true,"size":42,"fill":"#e04a5f","stroke":"#ff9aa6","strokeWidth":0.8,"opacity":1},
 "encoding": {
  "x": {"field":"d","type":"temporal"},
  "y": {"datum":0.3995,"type":"quantitative"}}
},
{"data": {"values": [
 {"p":0.7039,"label":"0.7039","kind":"orange"},
 {"p":0.5489,"label":"0.5489","kind":"orange"},
 {"p":0.4610,"label":"0.4610","kind":"white"},
 {"p":0.4100,"label":"0.4100","kind":"white"}]},
 "layer": [
  {"mark": {"type":"point","shape":"M-1,-0.36H1V0.36H-1Z","filled":true,"size":324,"xOffset":10,"opacity":1,"strokeWidth":0},
   "encoding": {
    "x": {"datum":{"year":2024,"month":2,"date":23,"hours":15,"minutes":20},"type":"temporal"},
    "y": {"field":"p","type":"quantitative"},
    "fill": {"field":"kind","type":"nominal","scale":{"domain":["orange","white"],"range":["#f7a21b","#ffffff"]},"legend":null}}},
  {"mark": {"type":"text","dx":10,"align":"center","baseline":"middle","fontSize":5,"font":"Roboto","color":"#131722"},
   "encoding": {
    "x": {"datum":{"year":2024,"month":2,"date":23,"hours":15,"minutes":20},"type":"temporal"},
    "y": {"field":"p","type":"quantitative"},
    "text": {"field":"label"}}}
 ]
},
{"data": {"values": [{"p":0.5024,"label":"0.5024\n10:46:16"}]},
 "layer": [
  {"mark": {"type":"point","shape":"M-1,-0.25H1V0.75H-1Z","filled":true,"size":484,"xOffset":11,"opacity":1,"strokeWidth":0,"color":"#f23645"},
   "encoding": {
    "x": {"datum":{"year":2024,"month":2,"date":23,"hours":15,"minutes":20},"type":"temporal"},
    "y": {"field":"p","type":"quantitative"}}},
  {"mark": {"type":"text","dx":11,"dy":-2.5,"align":"center","baseline":"top","fontSize":5,"lineHeight":5.5,"lineBreak":"\n","font":"Roboto","color":"#ffffff"},
   "encoding": {
    "x": {"datum":{"year":2024,"month":2,"date":23,"hours":15,"minutes":20},"type":"temporal"},
    "y": {"field":"p","type":"quantitative"},
    "text": {"field":"label"}}}
 ]
}
]
},
{
"width": 752, "height": 63,
"layer": [
{"data": {"name":"candles"},
 "mark": {"type":"line","color":"#7e57c2","strokeWidth":1},
 "encoding": {
  "x": {"field":"d","type":"temporal","scale":{"domain":[{"year":2023,"month":8,"date":9,"hours":6},{"year":2024,"month":2,"date":23,"hours":15,"minutes":20}]},
        "axis":{"values":[{"year":2023,"month":8,"date":14},{"year":2023,"month":8,"date":23},{"year":2023,"month":9,"date":1},{"year":2023,"month":9,"date":11},{"year":2023,"month":9,"date":20},{"year":2023,"month":10,"date":1},{"year":2023,"month":10,"date":16},{"year":2023,"month":11,"date":1},{"year":2023,"month":11,"date":13},{"year":2023,"month":11,"date":22},{"year":2023,"month":12,"date":1},{"year":2023,"month":12,"date":11},{"year":2023,"month":12,"date":20},{"year":2024,"month":1,"date":1},{"year":2024,"month":1,"date":15},{"year":2024,"month":2,"date":1},{"year":2024,"month":2,"date":12},{"year":2024,"month":2,"date":21}],"labels":false,"ticks":false,"domain":false,"grid":true,"title":""}},
  "y": {"field":"r","type":"quantitative","scale":{"domain":[8.57,98.57],"zero":false,"nice":false},
        "axis":{"orient":"right","values":[20,40,60,80],"labels":false,"grid":true,"ticks":false,"domain":false,"title":""}}
 }
},
{"data": {"values": [{}]},
 "mark": {"type":"rect","color":"#7e57c2","opacity":0.1},
 "encoding": {"y": {"datum":70,"type":"quantitative"}, "y2": {"datum":30}}
},
{"data": {"values": [{"lv":70},{"lv":50},{"lv":30}]},
 "mark": {"type":"rule","strokeDash":[3,3],"color":"#787b86","strokeWidth":1,"opacity":0.7},
 "encoding": {"y": {"field":"lv","type":"quantitative"}}
},
{"data": {"values": [{"v":20,"t":"20.00"},{"v":40,"t":"40.00"},{"v":60,"t":"60.00"},{"v":80,"t":"80.00"}]},
 "mark": {"type":"text","align":"left","baseline":"middle","dx":3,"fontSize":5.5,"font":"Roboto","color":"#c3c6ce"},
 "encoding": {
  "x": {"datum":{"year":2024,"month":2,"date":23,"hours":15,"minutes":20},"type":"temporal"},
  "y": {"field":"v","type":"quantitative"},
  "text": {"field":"t"}}
},
{"data": {"values": [{"t":"RSI (14, close, SMA, 14, 2)"}]},
 "mark": {"type":"text","align":"left","baseline":"middle","dx":7,"dy":7,"fontSize":5,"font":"Roboto","color":"#b2b5be"},
 "encoding": {
  "x": {"datum":{"year":2023,"month":8,"date":9,"hours":6},"type":"temporal"},
  "y": {"datum":98.57,"type":"quantitative"},
  "text": {"field":"t"}}
},
{"data": {"values": [{"t":"21.61"}]},
 "mark": {"type":"text","align":"left","baseline":"middle","dx":67,"dy":7,"fontSize":5,"font":"Roboto","color":"#9575cd"},
 "encoding": {
  "x": {"datum":{"year":2023,"month":8,"date":9,"hours":6},"type":"temporal"},
  "y": {"datum":98.57,"type":"quantitative"},
  "text": {"field":"t"}}
}
]
},
{
"width": 752, "height": 63,
"layer": [
{"data": {"name":"candles"},
 "mark": {"type":"line","color":"#2962ff","strokeWidth":1},
 "encoding": {
  "x": {"field":"d","type":"temporal","scale":{"domain":[{"year":2023,"month":8,"date":9,"hours":6},{"year":2024,"month":2,"date":23,"hours":15,"minutes":20}]},
        "axis":{"values":[{"year":2023,"month":8,"date":14},{"year":2023,"month":8,"date":23},{"year":2023,"month":9,"date":1},{"year":2023,"month":9,"date":11},{"year":2023,"month":9,"date":20},{"year":2023,"month":10,"date":1},{"year":2023,"month":10,"date":16},{"year":2023,"month":11,"date":1},{"year":2023,"month":11,"date":13},{"year":2023,"month":11,"date":22},{"year":2023,"month":12,"date":1},{"year":2023,"month":12,"date":11},{"year":2023,"month":12,"date":20},{"year":2024,"month":1,"date":1},{"year":2024,"month":1,"date":15},{"year":2024,"month":1,"date":22,"hours":17,"minutes":30},{"year":2024,"month":2,"date":1},{"year":2024,"month":2,"date":12},{"year":2024,"month":2,"date":21}],
        "labelExpr":"date(datum.value)==1 ? (month(datum.value)==0 ? '2024' : timeFormat(datum.value,'%b')) : (hours(datum.value)==17 ? '17:30' : timeFormat(datum.value,'%-d'))",
        "labelColor":{"condition":{"test":"hours(datum.value)==17","value":"#ffffff"},"value":"#b2b5be"},
        "labelOverlap":false,"labelFlush":false,"labelPadding":1,"ticks":false,"domain":false,"grid":true,
        "title":"TradingView","titleAnchor":"start","titleAlign":"left","titleX":4,"titleY":14,"titleFontSize":6,"titleFontWeight":"bold","titleColor":"#d1d4dc","titleBaseline":"middle"}},
  "y": {"field":"v","type":"quantitative","scale":{"domain":[27.68,34.43],"zero":false,"nice":false},
        "axis":{"orient":"right","values":[28,30,32,34],"labels":false,"grid":true,"ticks":false,"domain":false,"title":""}}
 }
},
{"data": {"values": [{"v":28,"t":"28B"},{"v":30,"t":"30B"},{"v":32,"t":"32B"},{"v":34,"t":"34B"}]},
 "mark": {"type":"text","align":"left","baseline":"middle","dx":4,"fontSize":5.5,"font":"Roboto","color":"#c3c6ce"},
 "encoding": {
  "x": {"datum":{"year":2024,"month":2,"date":23,"hours":15,"minutes":20},"type":"temporal"},
  "y": {"field":"v","type":"quantitative"},
  "text": {"field":"t"}}
},
{"data": {"values": [{"t":"OBV (SMA, 5)"}]},
 "mark": {"type":"text","align":"left","baseline":"middle","dx":7,"dy":7,"fontSize":5,"font":"Roboto","color":"#b2b5be"},
 "encoding": {
  "x": {"datum":{"year":2023,"month":8,"date":9,"hours":6},"type":"temporal"},
  "y": {"datum":34.43,"type":"quantitative"},
  "text": {"field":"t"}}
},
{"data": {"values": [{"t":"29.431B"}]},
 "mark": {"type":"text","align":"left","baseline":"middle","dx":39,"dy":7,"fontSize":5,"font":"Roboto","color":"#2962ff"},
 "encoding": {
  "x": {"datum":{"year":2023,"month":8,"date":9,"hours":6},"type":"temporal"},
  "y": {"datum":34.43,"type":"quantitative"},
  "text": {"field":"t"}}
}
]
}
],
"config": {
 "view": {"stroke": "#2a2e39", "strokeWidth": 1},
 "axis": {"labelFont": "Roboto", "labelFontSize": 5, "labelColor": "#b2b5be", "labelOverlap": false, "gridColor": "#22262f", "gridWidth": 1, "titleFont": "Roboto"},
 "text": {"font": "Roboto"}
}
}
